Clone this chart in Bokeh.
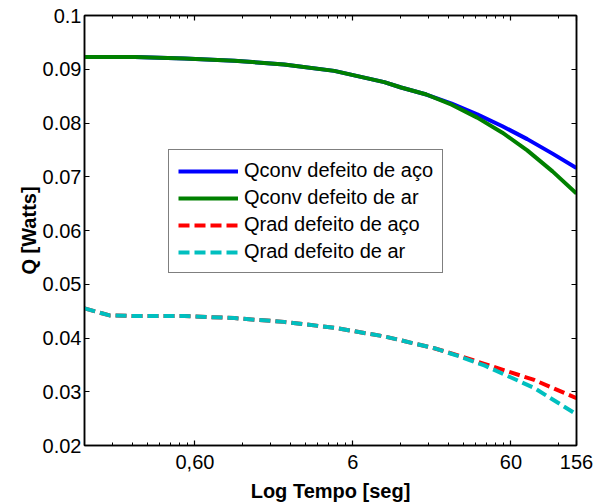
from bokeh.plotting import figure
from bokeh.models import (FixedTicker, LogAxis, LinearAxis, Legend, LegendItem, Range1d,
                          CustomJSTickFormatter)
from bokeh.embed import file_html
from bokeh.resources import INLINE

# ---- data ----
t_conv = [0.12, 0.249, 0.515, 1.065, 2.2, 4.57, 9.47, 12.1, 17.5, 25.3, 36.7, 53, 76.1, 110, 156]
qconv_aco = [0.0923, 0.0923, 0.0920, 0.0916, 0.0909, 0.0897, 0.0876, 0.0866, 0.0853, 0.0836,
             0.0816, 0.0794, 0.0770, 0.0743, 0.0716]
qconv_ar = [0.0923, 0.0923, 0.0920, 0.0916, 0.0909, 0.0897, 0.0876, 0.0866, 0.0853, 0.0834,
            0.0810, 0.0782, 0.0749, 0.0710, 0.0669]

t_rad = [0.12, 0.173, 0.249, 0.515, 1.065, 2.2, 4.57, 9.47, 19.6, 28.2, 40.7, 84.2, 156]
qrad_aco = [0.0455, 0.0442, 0.0441, 0.0441, 0.0437, 0.0430, 0.0419, 0.0403, 0.0381, 0.0367,
            0.0352, 0.0322, 0.0288]
qrad_ar = [0.0455, 0.0442, 0.0441, 0.0441, 0.0437, 0.0430, 0.0419, 0.0403, 0.0381, 0.0366,
           0.0349, 0.0307, 0.0258]

series_names = ["Qconv defeito de aço", "Qconv defeito de ar", "Qrad defeito de aço", "Qrad defeito de ar"]

x_ticks = [0.6, 6, 60, 156]
x_tick_labels = ["0,60", "6", "60", "156"]
x_minor_ticks = [0.18, 0.24, 0.30, 0.36, 0.42, 0.48, 0.54,
                 1.2, 1.8, 2.4, 3.0, 3.6, 4.2, 4.8, 5.4,
                 12, 18, 24, 30, 36, 42, 48, 54, 120]
y_ticks = [0.02, 0.03, 0.04, 0.05, 0.06, 0.07, 0.08, 0.09, 0.1]
y_tick_labels = ["0.02", "0.03", "0.04", "0.05", "0.06", "0.07", "0.08", "0.09", "0.1"]

FONT = "Liberation Sans"

p = figure(width=596, height=504, x_axis_type="log",
           x_range=Range1d(0.12, 156), y_range=Range1d(0.02, 0.1),
           output_backend="svg", toolbar_location=None,
           min_border_left=84, min_border_right=20, min_border_top=15, min_border_bottom=58,
           x_axis_label="Log Tempo [seg]", y_axis_label="Q [Watts]")
p.grid.visible = False
p.outline_line_color = "black"
p.outline_line_width = 1.5
p.background_fill_color = "white"

xt = FixedTicker(ticks=x_ticks, minor_ticks=x_minor_ticks)
yt = FixedTicker(ticks=y_ticks, minor_ticks=[])


def style_axis(ax, ticker, labels=None, show_labels=True):
    ax.ticker = ticker
    ax.axis_line_color = "black"
    ax.axis_line_width = 1.5
    ax.major_tick_line_color = "black"
    ax.major_tick_line_width = 1.2
    ax.minor_tick_line_color = "black"
    ax.minor_tick_line_width = 1
    ax.major_tick_in = 5
    ax.major_tick_out = 0
    ax.minor_tick_in = 3
    ax.minor_tick_out = 0
    if labels is not None:
        ax.major_label_overrides = labels
    if show_labels:
        ax.major_label_text_font = FONT
        ax.major_label_text_font_size = "20px"
        ax.major_label_text_color = "black"
        ax.axis_label_text_font = FONT
        ax.axis_label_text_font_size = "20px"
        ax.axis_label_text_font_style = "bold"
        ax.axis_label_text_color = "black"
    else:
        ax.formatter = CustomJSTickFormatter(code="return ''")
        ax.major_label_standoff = 0


xax = p.xaxis[0]
style_axis(xax, xt, dict(zip(x_ticks, x_tick_labels)))
xax.major_label_standoff = 9
xax.axis_label_standoff = 8

yax = p.yaxis[0]
style_axis(yax, yt, dict(zip(y_ticks, y_tick_labels)))
yax.major_label_standoff = 3
yax.axis_label_standoff = 0

top_ax = LogAxis()
style_axis(top_ax, xt, show_labels=False)
p.add_layout(top_ax, "above")
right_ax = LinearAxis()
style_axis(right_ax, yt, show_labels=False)
right_ax.minor_tick_in = 0
p.add_layout(right_ax, "right")

LW = 4
r1 = p.line(t_conv, qconv_aco, line_color="#0000FF", line_width=LW)
r2 = p.line(t_conv, qconv_ar, line_color="#008000", line_width=LW)
r3 = p.line(t_rad, qrad_aco, line_color="#FF0000", line_width=LW, line_dash="11 5")
r4 = p.line(t_rad, qrad_ar, line_color="#00BFBF", line_width=LW, line_dash="11 5")

legend = Legend(items=[LegendItem(label=n, renderers=[r]) for n, r in zip(series_names, [r1, r2, r3, r4])],
                location=(84, 172))
legend.label_text_font = FONT
legend.label_text_font_size = "20px"
legend.label_text_color = "black"
legend.glyph_width = 60
legend.glyph_height = 20
legend.label_height = 20
legend.label_standoff = 6
legend.spacing = 4
legend.padding = 9
legend.margin = 0
legend.border_line_color = "black"
legend.border_line_width = 1.2
legend.background_fill_color = "white"
legend.background_fill_alpha = 1
p.add_layout(legend, "center")

open("out.html", "w").write(file_html(p, INLINE))
